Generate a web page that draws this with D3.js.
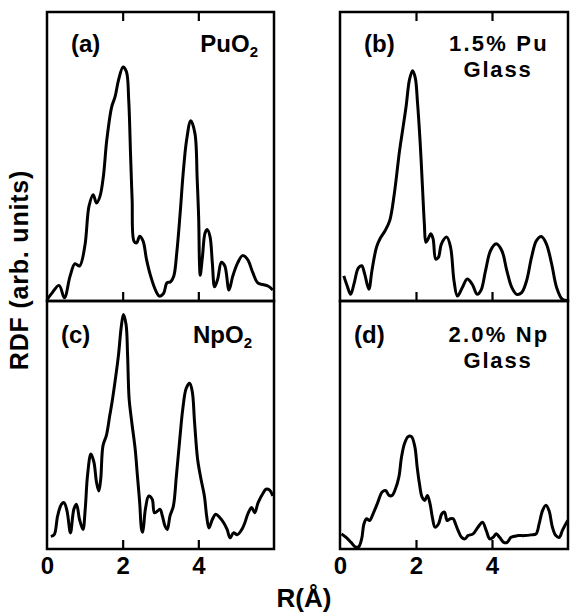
<!DOCTYPE html>
<html>
<head>
<meta charset="utf-8">
<script src="https://cdn.jsdelivr.net/npm/d3@7"></script>
<style>
  body { margin: 0; background: #fff; }
  svg { display: block; }
  text { font-family: "Liberation Sans", Arial, Helvetica, sans-serif; font-weight: bold; fill: #000; }
</style>
</head>
<body>
<div id="chart"></div>
<script>
// RDF curves: R in Angstrom, RDF in arbitrary units (0-100 of panel height)
//
var rA   = [0.01,0.14,0.32,0.46,0.61,0.74,0.86,1.00,1.11,1.22,1.31,1.40,1.49,1.58,1.71,1.80,1.89,2.01,2.10,2.16,2.21,2.25,2.30,2.37,2.45,2.54,2.63,2.74,2.88,2.97,3.08,3.17,3.26,3.35,3.43,3.52,3.60,3.69,3.80,3.91,3.97,4.01,4.03,4.05,4.11,4.18,4.24,4.31,4.37,4.43,4.51,4.61,4.70,4.81,4.91,5.04,5.17,5.30,5.44,5.57,5.70,5.84,5.97];
var rdfA = [0.6,2.9,5.4,1.1,8.6,12.9,12.1,19.0,32.8,36.8,33.9,36.2,43.1,55.7,67.2,70.7,76.4,81.0,79.3,69.5,50.0,35.1,20.7,20.1,22.4,20.7,14.4,8.6,3.4,1.7,2.6,6.3,6.6,8.6,16.7,30.5,44.3,55.7,62.4,58.0,42.0,28.2,13.2,8.9,15.5,23.6,24.7,22.2,13.2,4.9,7.5,13.4,12.1,3.8,8.6,13.2,15.7,14.4,9.8,6.3,5.7,5.2,3.8];

var rB   = [0.10,0.19,0.28,0.37,0.48,0.57,0.65,0.76,0.84,0.96,1.06,1.19,1.31,1.43,1.57,1.65,1.74,1.83,1.91,1.98,2.04,2.11,2.17,2.22,2.26,2.32,2.39,2.45,2.52,2.59,2.67,2.81,2.91,3.00,3.09,3.22,3.35,3.48,3.61,3.71,3.83,3.96,4.11,4.26,4.39,4.52,4.65,4.78,4.91,5.04,5.17,5.30,5.43,5.57,5.70,5.85,6.00];
var rdfB = [8.7,5.2,2.3,6.0,11.4,12.2,9.3,4.1,10.5,18.6,21.7,24.4,27.9,37.2,52.3,59.3,67.4,76.7,79.7,77.3,68.6,54.7,39.5,26.7,20.3,21.5,23.3,21.5,14.5,15.1,19.8,22.1,18.6,7.0,1.7,4.7,7.6,5.8,2.3,3.7,10.5,17.4,19.8,17.4,10.5,4.7,2.3,2.9,7.0,15.1,20.9,22.3,19.8,12.8,4.7,0.6,0.2];

var rC   = [0.10,0.19,0.28,0.38,0.45,0.53,0.62,0.71,0.78,0.86,0.95,1.01,1.07,1.16,1.24,1.31,1.37,1.42,1.48,1.57,1.66,1.72,1.81,1.89,1.96,2.02,2.09,2.13,2.17,2.24,2.33,2.39,2.45,2.50,2.53,2.60,2.69,2.78,2.84,2.92,2.99,3.05,3.12,3.18,3.25,3.34,3.42,3.51,3.59,3.68,3.77,3.84,3.90,3.98,4.07,4.16,4.22,4.28,4.37,4.46,4.57,4.67,4.76,4.84,4.93,5.03,5.15,5.23,5.32,5.41,5.49,5.58,5.71,5.79,5.88,5.97];
var rdfC = [5.1,5.8,13.3,18.0,18.7,15.3,6.5,16.0,18.0,11.9,7.9,16.0,29.5,38.3,35.0,26.8,23.4,28.2,41.7,45.8,53.9,59.3,68.8,78.3,89.2,94.6,90.5,78.3,60.7,51.2,40.4,29.5,18.7,7.9,6.8,16.0,21.4,20.1,14.6,15.3,16.0,13.3,9.2,7.9,13.3,17.3,29.5,44.4,56.6,64.8,66.8,63.4,51.2,36.3,28.2,21.4,13.3,8.5,11.9,14.0,12.6,10.6,7.9,4.5,6.5,5.8,7.9,10.6,14.6,16.7,14.6,18.7,22.5,24.1,23.8,21.4];

var rD   = [0.04,0.16,0.29,0.40,0.49,0.57,0.63,0.70,0.78,0.87,0.98,1.11,1.20,1.29,1.37,1.46,1.55,1.62,1.70,1.79,1.88,1.97,2.03,2.09,2.16,2.23,2.30,2.37,2.43,2.50,2.59,2.68,2.75,2.82,2.90,2.98,3.04,3.11,3.20,3.29,3.37,3.50,3.63,3.75,3.85,3.94,4.03,4.11,4.20,4.31,4.40,4.50,4.68,4.85,5.03,5.16,5.24,5.33,5.42,5.50,5.59,5.68,5.77,5.85,5.94,6.00];
var rdfD = [6.1,4.7,2.7,0.9,0.9,4.1,10.1,12.2,11.5,14.2,18.2,23.0,23.6,21.6,21.6,24.3,29.1,37.2,42.6,45.3,45.3,41.2,33.1,26.4,20.9,19.6,21.6,18.2,12.8,8.8,10.1,14.2,14.9,11.5,12.2,12.2,10.1,7.4,4.7,4.1,5.4,6.1,8.8,10.8,7.4,4.1,4.7,6.1,4.7,2.7,2.7,4.7,5.4,5.4,5.7,6.1,10.1,15.5,17.6,15.5,8.8,5.4,4.7,7.4,10.1,11.5];

var panelTags   = ['(a)', '(b)', '(c)', '(d)'];
var panelNames  = [['PuO', '2'], ['1.5% Pu', 'Glass'], ['NpO', '2'], ['2.0% Np', 'Glass']];
var tickLabels  = [0, 2, 4];
var innerTicks  = [2, 4];
var xLabel      = 'R(Å)';
var yLabel      = 'RDF (arb. units)';

// Canvas
//
var svg_width  = 570;
var svg_height = 616;

var svg = d3.select('#chart').append('svg')
    .attr('width', svg_width)
    .attr('height', svg_height);

// Panel boxes (pixel frames)
//
var cols = [ {x0: 47, x1: 274}, {x0: 340, x1: 568} ];
var rows = [ {y0: 12, y1: 301}, {y0: 301, y1: 549} ];

var panels = [
    {tag: panelTags[0], name: panelNames[0], r: rA, v: rdfA, col: cols[0], row: rows[0], sub: true,  top: true},
    {tag: panelTags[1], name: panelNames[1], r: rB, v: rdfB, col: cols[1], row: rows[0], sub: false, top: true},
    {tag: panelTags[2], name: panelNames[2], r: rC, v: rdfC, col: cols[0], row: rows[1], sub: true,  top: false},
    {tag: panelTags[3], name: panelNames[3], r: rD, v: rdfD, col: cols[1], row: rows[1], sub: false, top: false}
];

panels.forEach(function(p) {

    let x = d3.scaleLinear().domain([0, 6]).range([p.col.x0, p.col.x1]);
    let y = d3.scaleLinear().domain([0, 100]).range([p.row.y1, p.row.y0]);

    let g = svg.append('g').attr('class', 'panel');

    // Curve
    //
    let pts  = p.r.map((d, i) => [d, p.v[i]]);
    let line = d3.line()
        .x(d => x(d[0]))
        .y(d => y(d[1]))
        .curve(d3.curveCatmullRom.alpha(0.5));

    g.append('path')
        .attr('d', line(pts))
        .attr('fill', 'none')
        .attr('stroke', '#000')
        .attr('stroke-width', 3)
        .attr('stroke-linejoin', 'round');

    // Frame
    //
    g.append('rect')
        .attr('x', p.col.x0)
        .attr('y', p.row.y0)
        .attr('width', p.col.x1 - p.col.x0)
        .attr('height', p.row.y1 - p.row.y0)
        .attr('fill', 'none')
        .attr('stroke', '#000')
        .attr('stroke-width', 2.5);

    // Inner ticks at 2 and 4
    //
    let bottomTicks = g.append('g')
        .attr('transform', `translate(0,${p.row.y1})`)
        .call(d3.axisBottom(x).tickValues(innerTicks).tickSize(-9).tickFormat(''));
    bottomTicks.select('.domain').remove();
    bottomTicks.selectAll('line').attr('stroke-width', 2.2);

    if(p.top) {
        let topTicks = g.append('g')
            .attr('transform', `translate(0,${p.row.y0})`)
            .call(d3.axisTop(x).tickValues(innerTicks).tickSize(-9).tickFormat(''));
        topTicks.select('.domain').remove();
        topTicks.selectAll('line').attr('stroke-width', 2.2);
    } else {
        // Tick labels below bottom panels
        //
        let lab = g.append('g')
            .attr('transform', `translate(0,${p.row.y1})`)
            .call(d3.axisBottom(x).tickValues(tickLabels).tickSize(0).tickPadding(8).tickFormat(d3.format('d')));
        lab.select('.domain').remove();
        lab.selectAll('text')
            .attr('fill', '#000')
            .style('font-family', '"Liberation Sans", Arial, sans-serif')
            .style('font-weight', 'bold')
            .style('font-size', '24px');
    }

    // Panel tag
    //
    let base = p.row.y0 + (p.top ? 40 : 42);
    g.append('text')
        .attr('x', p.col.x0 + (p.top ? 24 : 14))
        .attr('y', base)
        .style('font-size', '24px')
        .text(p.tag);

    // Sample name
    //
    if(p.sub) {
        let t = g.append('text')
            .attr('x', p.col.x1 - (p.top ? 16 : 22))
            .attr('y', base)
            .attr('text-anchor', 'end')
            .style('font-size', '24px');
        t.append('tspan').text(p.name[0]);
        t.append('tspan').attr('dy', 5).style('font-size', '15px').text(p.name[1]);
    } else {
        let cx = p.col.x0 + 159;
        g.append('text')
            .attr('x', cx)
            .attr('y', base - 1)
            .attr('text-anchor', 'middle')
            .style('font-size', '22px')
            .style('letter-spacing', '2.2px')
            .text(p.name[0]);
        g.append('text')
            .attr('x', cx - 1)
            .attr('y', base + 25)
            .attr('text-anchor', 'middle')
            .style('font-size', '22px')
            .style('letter-spacing', '1.8px')
            .text(p.name[1]);
    }
});

// Axis titles
//
svg.append('text')
    .attr('x', 304)
    .attr('y', 607)
    .attr('text-anchor', 'middle')
    .style('font-size', '26px')
    .text(xLabel);

svg.append('text')
    .attr('transform', 'translate(28,270) rotate(-90)')
    .attr('text-anchor', 'middle')
    .style('font-size', '25px')
    .style('letter-spacing', '0.8px')
    .text(yLabel);
</script>
</body>
</html>
